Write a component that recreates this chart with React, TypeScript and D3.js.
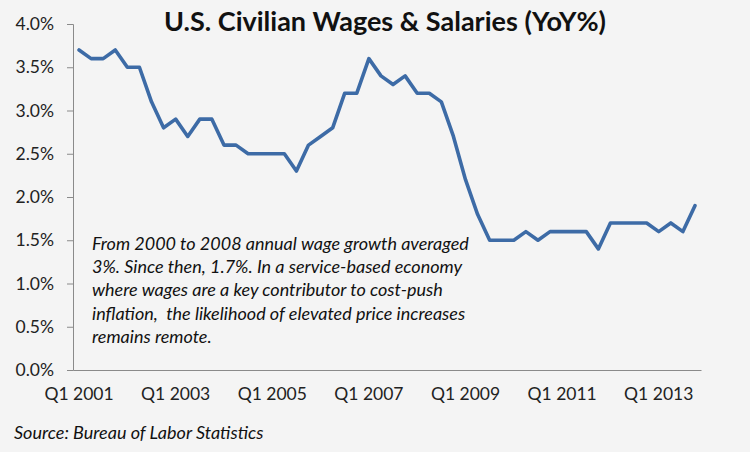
import { useEffect, useRef } from 'react';
import * as d3 from 'd3';

// Quarterly YoY % change, Q1 2001 .. Q4 2013
const quarters: string[] = [];
for (let y = 2001; y <= 2013; y++) for (let q = 1; q <= 4; q++) quarters.push(`Q${q} ${y}`);

const wageGrowth = [
  3.7, 3.6, 3.6, 3.7, // 2001
  3.5, 3.5, 3.1, 2.8, // 2002
  2.9, 2.7, 2.9, 2.9, // 2003
  2.6, 2.6, 2.5, 2.5, // 2004
  2.5, 2.5, 2.3, 2.6, // 2005
  2.7, 2.8, 3.2, 3.2, // 2006
  3.6, 3.4, 3.3, 3.4, // 2007
  3.2, 3.2, 3.1, 2.7, // 2008
  2.2, 1.8, 1.5, 1.5, // 2009
  1.5, 1.6, 1.5, 1.6, // 2010
  1.6, 1.6, 1.6, 1.4, // 2011
  1.7, 1.7, 1.7, 1.7, // 2012
  1.6, 1.7, 1.6, 1.9, // 2013
];

const yTicks = [0, 0.5, 1, 1.5, 2, 2.5, 3, 3.5, 4];
const xTickLabels = ['Q1 2001', 'Q1 2003', 'Q1 2005', 'Q1 2007', 'Q1 2009', 'Q1 2011', 'Q1 2013'];

const noteLines = [
  'From 2000 to 2008 annual wage growth averaged',
  '3%. Since then, 1.7%. In a service-based economy',
  'where wages are a key contributor to cost-push',
  'inflation,  the likelihood of elevated price increases',
  'remains remote.',
];

const title = 'U.S. Civilian Wages & Salaries (YoY%)';
const source = 'Source: Bureau of Labor Statistics';

const W = 750;
const H = 452;
const FONT = 'Lato, "Open Sans", sans-serif';

export default function App() {
  const svgRef = useRef<SVGSVGElement>(null);

  useEffect(() => {
    document.body.style.margin = '0';
    if (!svgRef.current) return;
    const svg = d3.select(svgRef.current);
    svg.selectAll('*').remove();

    const left = 73;
    const right = 701;
    const top = 24;
    const bottom = 370;

    const x = d3.scaleBand<string>().domain(quarters).range([left, right]);
    const y = d3.scaleLinear().domain([0, 4]).range([bottom, top]);

    svg.append('rect').attr('width', W).attr('height', H).attr('fill', '#f4f4f4');

    // title
    svg.append('text')
      .attr('x', 385)
      .attr('y', 31)
      .attr('text-anchor', 'middle')
      .attr('font-family', FONT)
      .attr('font-weight', 700)
      .attr('font-size', 27)
      .attr('fill', '#111')
      .text(title);

    // y axis
    const yAxis = d3.axisLeft(y)
      .tickValues(yTicks)
      .tickSize(6)
      .tickPadding(13)
      .tickFormat(d => `${d3.format('.1f')(d as number)}%`);
    const gy = svg.append('g').attr('transform', `translate(${left},0)`).call(yAxis);
    gy.select('.domain').attr('stroke', '#8a8a8a');
    gy.selectAll('.tick line').attr('stroke', '#8a8a8a');
    gy.selectAll('.tick text')
      .attr('font-family', FONT)
      .attr('font-size', 17.5)
      .attr('fill', '#222');

    // x axis
    const xAxis = d3.axisBottom(x)
      .tickValues(xTickLabels)
      .tickSize(0)
      .tickPadding(18);
    const gx = svg.append('g').attr('transform', `translate(0,${bottom})`).call(xAxis);
    gx.select('.domain').attr('stroke', '#8a8a8a');
    gx.selectAll('.tick text')
      .attr('font-family', FONT)
      .attr('font-size', 17.5)
      .attr('fill', '#222');

    // series line
    const line = d3.line<number>()
      .x((_, i) => (x(quarters[i]) ?? 0) + x.bandwidth() / 2)
      .y(d => y(d));

    svg.append('path')
      .datum(wageGrowth)
      .attr('fill', 'none')
      .attr('stroke', '#3d6ba6')
      .attr('stroke-width', 3.6)
      .attr('stroke-linejoin', 'round')
      .attr('stroke-linecap', 'round')
      .attr('d', line);

    // annotation
    const note = svg.append('text')
      .attr('font-family', FONT)
      .attr('font-style', 'italic')
      .attr('font-size', 18)
      .attr('fill', '#111');
    noteLines.forEach((t, i) => {
      note.append('tspan')
        .attr('x', 92)
        .attr('y', 250 + i * 23.2)
        .style('white-space', 'pre')
        .text(t);
    });

    // source
    svg.append('text')
      .attr('x', 14)
      .attr('y', 439)
      .attr('font-family', FONT)
      .attr('font-style', 'italic')
      .attr('font-size', 18)
      .attr('fill', '#111')
      .text(source);
  }, []);

  return <svg ref={svgRef} width={W} height={H} style={{ display: 'block' }} />;
}
